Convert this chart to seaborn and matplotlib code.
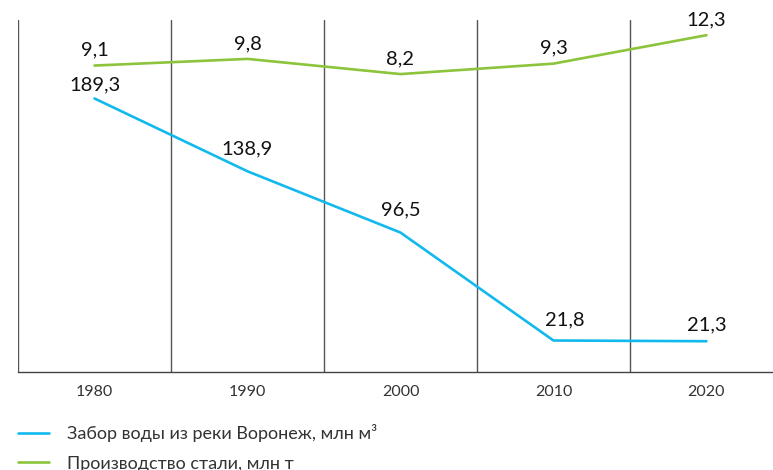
import pandas as pd
import numpy as np
import matplotlib.pyplot as plt
import seaborn as sns

years = ['1980', '1990', '2000', '2010', '2020']
water = [189.3, 138.9, 96.5, 21.8, 21.3]
steel = [9.1, 9.8, 8.2, 9.3, 12.3]
water_label = 'Забор воды из реки Воронеж, млн м³'
steel_label = 'Производство стали, млн т'

blue = '#12b9ec'
green = '#8cc43c'

sns.set_theme(style='white')
plt.rcParams['font.family'] = ['Lato', 'DejaVu Sans']

df = pd.DataFrame({'x': np.arange(len(years)), 'water': water, 'steel': steel})

fig = plt.figure(figsize=(7.73, 4.70), dpi=100)
ax = fig.add_axes([18 / 773, 1 - 372 / 470, 755 / 773, 352 / 470])
ax2 = ax.twinx()

sns.lineplot(data=df, x='x', y='water', ax=ax, color=blue, linewidth=1.9, label=water_label, legend=False)
sns.lineplot(data=df, x='x', y='steel', ax=ax2, color=green, linewidth=1.9, label=steel_label, legend=False)

ax.set_xlim(-0.5, 4.435)
ax.set_ylim(0, 243.6)
ax2.set_ylim(-23.2, 13.9)

for b in np.arange(-0.5, 4.0, 1.0):
    ax.axvline(b, color='#555555', linewidth=1.0, zorder=0)

for s in ['top', 'right', 'left']:
    ax.spines[s].set_visible(False)
    ax2.spines[s].set_visible(False)
ax.spines['bottom'].set_color('#444444')
ax.spines['bottom'].set_linewidth(1.0)
ax2.spines['bottom'].set_visible(False)

ax.set_xticks(df['x'])
ax.set_xticklabels(years, fontsize=11.5, color='#333333')
ax.tick_params(axis='x', length=0, pad=9)
ax.set_yticks([])
ax2.set_yticks([])
ax.set_xlabel('')
ax.set_ylabel('')
ax2.set_ylabel('')

def fmt(v):
    return f'{v:.1f}'.replace('.', ',')

# label offsets in points (dx, dy)
water_off = [(0, 10), (0, 16), (0, 16), (8, 14.5), (0, 12)]
for i, v in enumerate(water):
    ax.annotate(fmt(v), (i, v), xytext=water_off[i], textcoords='offset points',
                ha='center', va='center', fontsize=14.5, color='#111111')
for i, v in enumerate(steel):
    ax2.annotate(fmt(v), (i, v), xytext=(0, 11), textcoords='offset points',
                 ha='center', va='center', fontsize=14.5, color='#111111')

h1, l1 = ax.get_legend_handles_labels()
h2, l2 = ax2.get_legend_handles_labels()
fig.legend(h1 + h2, l1 + l2, loc='upper left', bbox_to_anchor=(18 / 773, 1 - 424 / 470),
           frameon=False, fontsize=13, handlelength=1.7, handletextpad=1.0,
           labelspacing=0.75, borderaxespad=0, borderpad=0, labelcolor='#333333')

fig.savefig('out.png', dpi=100)
